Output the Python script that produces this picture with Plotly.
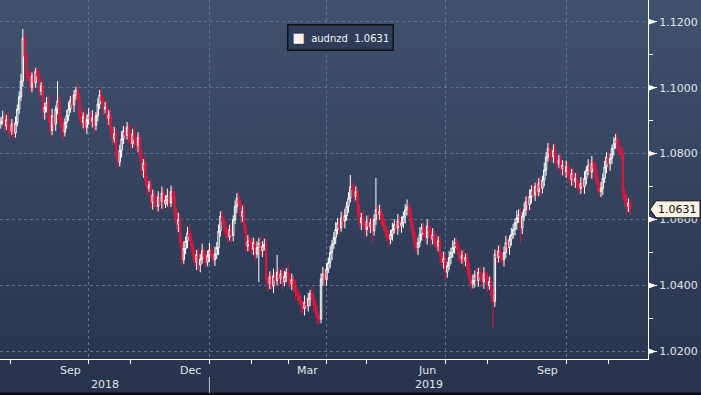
import base64
import math
import pandas as pd
import plotly.graph_objects as go

# ---------------- data ----------------
series_name = "audnzd"
first_date = "2018-07-25"
first_open = 1.0890

closes = [
    1.0898, 1.0912, 1.0884, 1.0903, 1.0876, 1.0868, 1.0889, 1.0862, 1.0893, 1.0935,
    1.0972, 1.1020, 1.1150, 1.1095, 1.1040,
    1.1030, 1.1000, 1.1035, 1.1015, 1.1050,
    1.1035, 1.0990, 1.1005, 1.0925, 1.0940,
    1.0955, 1.0905, 1.0870, 1.0915, 1.0890, 1.0935, 1.0960,
    1.0905, 1.0880, 1.0865, 1.0895, 1.0915,
    1.0935, 1.0962, 1.0948, 1.0978, 1.0992, 1.0968, 1.0918,
    1.0895, 1.0912, 1.0880, 1.0903, 1.0920, 1.0898, 1.0908, 1.0885, 1.0915,
    1.0950, 1.0978, 1.0960, 1.0935,
    1.0940, 1.0905, 1.0918, 1.0870, 1.0845, 1.0860, 1.0800, 1.0775,
    1.0810, 1.0845, 1.0870, 1.0855, 1.0880, 1.0850, 1.0830, 1.0860, 1.0842, 1.0825, 1.0848,
    1.0790, 1.0750, 1.0772, 1.0718,
    1.0695, 1.0705, 1.0652, 1.0675,
    1.0652, 1.0640, 1.0668, 1.0655, 1.0680, 1.0648, 1.0660, 1.0672, 1.0650, 1.0685, 1.0668,
    1.0620, 1.0585, 1.0600, 1.0530, 1.0478,
    1.0512, 1.0535, 1.0560, 1.0548, 1.0520, 1.0490,
    1.0470, 1.0495, 1.0462, 1.0480, 1.0505, 1.0488, 1.0470, 1.0492, 1.0508, 1.0495, 1.0478, 1.0495,
    1.0515, 1.0565, 1.0610, 1.0595, 1.0575,
    1.0560, 1.0548, 1.0570, 1.0552,
    1.0600, 1.0640, 1.0665, 1.0648,
    1.0610, 1.0625, 1.0570, 1.0520, 1.0535,
    1.0525, 1.0510, 1.0530, 1.0495, 1.0515, 1.0528, 1.0505, 1.0520, 1.0525, 1.0420,
    1.0405, 1.0425, 1.0398, 1.0430, 1.0415, 1.0440, 1.0420, 1.0435, 1.0410, 1.0428,
    1.0440, 1.0422, 1.0405, 1.0418, 1.0395, 1.0380,
    1.0370, 1.0355, 1.0340, 1.0330, 1.0350, 1.0338, 1.0360, 1.0375, 1.0362, 1.0340, 1.0320, 1.0300,
    1.0298, 1.0420, 1.0435, 1.0418,
    1.0450, 1.0470, 1.0500, 1.0525, 1.0545, 1.0570,
    1.0590, 1.0575, 1.0605, 1.0595, 1.0612,
    1.0640, 1.0665, 1.0700, 1.0690,
    1.0670, 1.0685, 1.0625, 1.0590, 1.0605,
    1.0585, 1.0570, 1.0595, 1.0578, 1.0590, 1.0565, 1.0600,
    1.0630, 1.0615, 1.0625, 1.0600, 1.0580,
    1.0565, 1.0550, 1.0540, 1.0555, 1.0570,
    1.0585, 1.0575, 1.0595, 1.0580, 1.0590, 1.0610,
    1.0630, 1.0638, 1.0620, 1.0590,
    1.0560, 1.0530, 1.0515,
    1.0530, 1.0555, 1.0575, 1.0560, 1.0545, 1.0580, 1.0565, 1.0540, 1.0555, 1.0535,
    1.0520, 1.0535, 1.0490,
    1.0470, 1.0482, 1.0440, 1.0460,
    1.0485, 1.0500, 1.0515, 1.0530, 1.0520,
    1.0495, 1.0480, 1.0490, 1.0475, 1.0485,
    1.0450, 1.0420, 1.0405, 1.0415,
    1.0430, 1.0415, 1.0440, 1.0425, 1.0412, 1.0435, 1.0420,
    1.0400, 1.0412, 1.0370, 1.0352,
    1.0495,
    1.0485, 1.0505, 1.0490, 1.0478,
    1.0500, 1.0530, 1.0515, 1.0540,
    1.0555, 1.0570, 1.0590, 1.0605, 1.0615,
    1.0575, 1.0610, 1.0630, 1.0655, 1.0645,
    1.0670, 1.0690, 1.0675, 1.0700, 1.0685, 1.0710, 1.0695,
    1.0720, 1.0750, 1.0790, 1.0815, 1.0800, 1.0790, 1.0810, 1.0785,
    1.0770, 1.0780, 1.0755, 1.0765, 1.0745,
    1.0760, 1.0735, 1.0720, 1.0740, 1.0715, 1.0725, 1.0705,
    1.0695, 1.0710, 1.0700,
    1.0725, 1.0750, 1.0765, 1.0745, 1.0770, 1.0755,
    1.0730, 1.0705, 1.0685, 1.0695,
    1.0725, 1.0760, 1.0790, 1.0770, 1.0785,
    1.0815, 1.0830, 1.0845, 1.0825, 1.0810, 1.0800,
    1.0680,
    1.0655, 1.0640, 1.0650, 1.0631,
]

# wick lengths beyond the candle body, in pips (0.0001)
upper_wick_pips = [
    12, 18, 10, 15, 22, 9, 16, 13, 20, 14, 17, 22, 28, 15, 12,
    16, 21, 11, 18, 10, 14, 19, 12, 24, 15, 17, 20, 13, 22, 16,
    11, 60, 18, 14, 21, 12, 17, 23, 13, 19, 15, 11, 20, 14, 18,
    13, 22, 15, 19, 12, 24, 16, 11, 18, 15, 20, 13, 17, 22, 14,
    19, 12, 21, 15, 11, 17, 23, 14, 18, 16, 12, 20, 15, 24, 13,
    17, 14, 22, 11, 19, 15, 12, 21, 16, 13, 23, 18, 12, 20, 15,
    14, 22, 16, 18, 12, 19, 15, 21, 13, 17, 22, 14, 18, 24, 12,
    16, 20, 13, 19, 15, 22, 12, 18, 14, 21, 16, 13, 23, 17, 20,
    15, 19, 12, 22, 16, 14, 20, 13, 18, 15, 21, 12, 17, 23, 14,
    18, 13, 21, 15, 12, 19, 16, 22, 14, 17, 20, 13, 18, 15, 21,
    14, 53, 17, 12, 20, 16, 13, 22, 15, 18, 12, 21, 16, 14, 19,
    13, 20, 15, 18, 12, 22, 16, 14, 19, 11, 17, 21, 14, 18, 15,
    20, 13, 17, 22, 15, 12, 19, 16, 21, 14, 18, 35, 13, 20, 16,
    12, 19, 15, 22, 14, 17, 21, 13, 18, 16, 96, 14, 20, 12, 17,
    21, 15, 18, 13, 20, 16, 12, 22, 15, 19, 14, 17, 23, 13, 18,
    16, 12, 20, 15, 22, 13, 18, 14, 21, 17, 12, 19, 15, 23, 14,
    18, 13, 21, 16, 12, 20, 15, 22, 14, 17, 13, 19, 16, 21, 12,
    17, 22, 14, 19, 15, 24, 13, 18, 16, 21, 12, 20, 15, 17, 22,
    14, 19, 16, 22, 13, 18, 21, 15, 12, 20, 17, 14, 23, 16, 19,
    13, 21, 15, 18, 22, 14, 17, 12, 20, 16, 19, 13, 22, 15, 17,
    20, 14, 18, 22, 13, 16, 21, 15, 12, 19, 17, 23, 14, 18, 16,
    22, 13, 19, 15, 21, 12, 18, 16, 23, 14, 17, 20, 13, 19, 15,
    18, 14, 21, 16, 12, 20, 15, 21, 17, 13, 19, 15, 22, 14, 12,
]
lower_wick_pips = [
    14, 10, 18, 12, 16, 22, 11, 19, 13, 10, 15, 12, 17, 14, 20,
    12, 17, 14, 21, 15, 11, 19, 13, 18, 22, 15, 12, 20, 14, 17,
    21, 15, 12, 18, 23, 13, 19, 16, 11, 17, 22, 14, 15, 20, 12,
    18, 13, 21, 16, 12, 19, 23, 14, 17, 15, 11, 20, 13, 22, 18,
    15, 20, 12, 17, 19, 14, 22, 16, 19, 12, 18, 23, 13, 20, 15,
    21, 13, 18, 23, 16, 19, 11, 17, 22, 14, 20, 15, 12, 22, 17,
    13, 20, 16, 12, 21, 18, 14, 23, 15, 19, 12, 17, 22, 14, 20,
    15, 12, 23, 18, 22, 14, 20, 16, 12, 21, 17, 13, 19, 15, 23,
    17, 14, 21, 16, 19, 12, 23, 18, 14, 20, 15, 22, 17, 12, 19,
    16, 22, 13, 18, 21, 12, 105, 15, 19, 14, 17, 23, 16, 12, 21,
    18, 13, 20, 15, 23, 12, 17, 21, 14, 19, 16, 22, 18, 13, 20,
    15, 21, 12, 17, 23, 14, 19, 16, 18, 14, 13, 21, 15, 19, 12,
    17, 23, 14, 19, 15, 21, 12, 18, 22, 16, 19, 13, 21, 17, 12,
    19, 15, 22, 13, 18, 21, 16, 19, 36, 14, 17, 23, 15, 19, 13,
    21, 17, 23, 15, 19, 12, 18, 21, 14, 20, 16, 22, 17, 13, 19,
    15, 21, 17, 23, 14, 19, 16, 12, 21, 18, 22, 15, 19, 13, 17,
    21, 15, 19, 23, 17, 13, 21, 16, 19, 12, 22, 17, 14, 21, 16,
    19, 17, 23, 14, 21, 15, 19, 12, 18, 22, 16, 20, 13, 21, 81,
    17, 22, 15, 19, 14, 21, 17, 16, 22, 19, 13, 18, 21, 15, 45,
    19, 14, 18, 22, 16, 21, 12, 19, 17, 14, 22, 16, 19, 17, 14,
    21, 15, 19, 17, 22, 14, 18, 21, 15, 19, 12, 22, 17, 14, 19,
    16, 21, 17, 14, 22, 19, 15, 18, 21, 14, 19, 22, 16, 17, 21,
    14, 19, 16, 22, 17, 21, 15, 19, 14, 17, 22, 19, 26, 17, 15,
]

y_tick_values = [1.02, 1.04, 1.06, 1.08, 1.10, 1.12]
y_minor_values = [1.03, 1.05, 1.07, 1.09, 1.11]
month_labels = [((2018, 9), "Sep"), ((2018, 12), "Dec"), ((2019, 3), "Mar"),
                ((2019, 6), "Jun"), ((2019, 9), "Sep")]
year_labels = ["2018", "2019"]

# ---------------- build OHLC ----------------
assert len(closes) == len(upper_wick_pips) == len(lower_wick_pips)
dates = pd.bdate_range(first_date, periods=len(closes))
opens = [first_open] + closes[:-1]
highs = [round(max(o, c) + u / 10000.0, 4) for o, c, u in zip(opens, closes, upper_wick_pips)]
lows = [round(min(o, c) - d / 10000.0, 4) for o, c, d in zip(opens, closes, lower_wick_pips)]
last_value = closes[-1]

# ---------------- geometry / style ----------------
W, H = 701, 395
ML, MR, MT, MB = 0, 53, 0, 36
PW, PH = W - ML - MR, H - MT - MB
Y_RANGE = [1.0177, 1.1266]
X_RANGE = [pd.Timestamp("2018-07-24 12:49"), pd.Timestamp("2019-12-02 16:48")]
FONT = "DejaVu Sans"
TXT = "#e0e4eb"
GRID = "#5d7394"
RED_LINE = "#e0173f"
RED_FILL = "#a3284f"

cal = pd.bdate_range("2018-07-02", "2020-01-31")


def tpos(ts):
    ts = pd.Timestamp(ts)
    day = ts.normalize()
    return cal.searchsorted(day) + (ts - day) / pd.Timedelta(days=1)


def tdate(pos):
    k = int(math.floor(pos))
    return cal[k] + (pos - k) * pd.Timedelta(days=1)


def ypaper(v):
    return (v - Y_RANGE[0]) / (Y_RANGE[1] - Y_RANGE[0])


month_starts = pd.date_range("2018-08-01", "2019-12-01", freq="MS")
quarter_starts = [d for d in month_starts if d.month in (1, 4, 7, 10)]

fig = go.Figure()
fig.add_trace(go.Candlestick(
    x=dates, open=opens, high=highs, low=lows, close=closes,
    name=series_name, showlegend=False,
    increasing=dict(line=dict(color="#ffffff", width=1), fillcolor="rgba(0,0,0,0)"),
    decreasing=dict(line=dict(color=RED_LINE, width=1), fillcolor=RED_FILL),
    whiskerwidth=0,
))

annotations = []
shapes = []

# month labels centred within their month
for (yy, mm), txt in month_labels:
    s = tpos(pd.Timestamp(yy, mm, 1))
    e = tpos(pd.Timestamp(yy, mm, 1) + pd.offsets.MonthBegin(1))
    annotations.append(dict(x=tdate((s + e) / 2), y=-11 / PH, xref="x", yref="paper",
                            text=txt, showarrow=False, xanchor="center", yanchor="middle",
                            font=dict(family=FONT, size=11, color=TXT)))
# year labels centred within the visible part of the year
boundary = pd.Timestamp("2019-01-01")
spans = [(tpos(X_RANGE[0]), tpos(boundary)), (tpos(boundary), tpos(X_RANGE[1]))]
for txt, (s, e) in zip(year_labels, spans):
    annotations.append(dict(x=tdate((s + e) / 2), y=-25 / PH, xref="x", yref="paper",
                            text=txt, showarrow=False, xanchor="center", yanchor="middle",
                            font=dict(family=FONT, size=11, color=TXT)))
shapes.append(dict(type="line", xref="x", yref="paper", x0=boundary, x1=boundary,
                   y0=-18 / PH, y1=-34 / PH, line=dict(color="#b8bfca", width=1)))

# right-pointing markers at the major y ticks
for v in y_tick_values:
    yc = ypaper(v)
    h = 3.2 / PH
    shapes.append(dict(type="path", xref="paper", yref="paper",
                       path=f"M 1 {yc - h} L 1 {yc + h} L {1 + 8.5 / PW} {yc} Z",
                       fillcolor="#ffffff", line=dict(width=0), layer="above"))

# last value tag
yc = ypaper(last_value)
hh = 8.5 / PH
x_tip, x_body, x_end = 650 / PW, 656 / PW, 700 / PW
shapes.append(dict(type="path", xref="paper", yref="paper",
                   path=(f"M {x_tip} {yc} L {x_body} {yc + hh} L {x_end} {yc + hh} "
                         f"L {x_end} {yc - hh} L {x_body} {yc - hh} Z"),
                   fillcolor="#f7f1e6", line=dict(color="#111111", width=1), layer="above"))
annotations.append(dict(x=677.5 / PW, y=yc, xref="paper", yref="paper",
                        text=f"{last_value:.4f}", showarrow=False,
                        xanchor="center", yanchor="middle",
                        font=dict(family=FONT, size=11, color="#111111")))

# legend box
annotations.append(dict(x=287 / PW, y=1 - 24 / PH, xref="paper", yref="paper",
                        xanchor="left", yanchor="top", align="left", showarrow=False,
                        text=(f"<span style='color:#fdf2ee;font-size:13px'>■</span>"
                              f"  {series_name}  {last_value:.4f}"),
                        font=dict(family=FONT, size=10, color="#f2f4f7"),
                        bgcolor="#303c58", bordercolor="#0c1018", borderwidth=1.5,
                        borderpad=4, width=96, height=16))

# gradient background
svg = (
    f'<svg xmlns="http://www.w3.org/2000/svg" width="{W}" height="{H}" '
    f'viewBox="0 0 {W} {H}" preserveAspectRatio="none">'
    '<defs><linearGradient id="g" x1="0" y1="0" x2="0" y2="1">'
    '<stop offset="0" stop-color="#40516e"/><stop offset="1" stop-color="#28324c"/>'
    '</linearGradient></defs>'
    f'<rect width="{W}" height="{H}" fill="url(#g)"/>'
    f'<rect y="{H - 2.5}" width="{W}" height="2.5" fill="#0a0e16"/>'
    '</svg>'
)
bg_src = "data:image/svg+xml;base64," + base64.b64encode(svg.encode()).decode()

fig.update_layout(
    width=W, height=H, autosize=False,
    margin=dict(l=ML, r=MR, t=MT, b=MB, pad=0),
    paper_bgcolor="#34415d", plot_bgcolor="rgba(0,0,0,0)",
    showlegend=False, hovermode=False,
    boxgap=0.12, boxgroupgap=0.12,
    images=[dict(source=bg_src, xref="paper", yref="paper", x=-ML / PW, y=1 + MT / PH,
                 sizex=W / PW, sizey=H / PH, xanchor="left", yanchor="top",
                 sizing="stretch", layer="below")],
    annotations=annotations, shapes=shapes,
    xaxis=dict(
        type="date", range=X_RANGE, rangebreaks=[dict(bounds=["sat", "mon"])],
        rangeslider=dict(visible=False),
        tickmode="array", tickvals=quarter_starts, showticklabels=False,
        ticks="outside", ticklen=4, tickwidth=1, tickcolor="#ffffff",
        showgrid=True, gridcolor=GRID, griddash="dot", gridwidth=1,
        minor=dict(tickmode="array", tickvals=list(month_starts), ticks="outside",
                   ticklen=4, tickwidth=1, tickcolor="#ffffff", showgrid=False),
        showline=True, linecolor="#ffffff", linewidth=1, zeroline=False, fixedrange=True,
    ),
    yaxis=dict(
        side="right", range=Y_RANGE, tickmode="array", tickvals=y_tick_values,
        ticktext=[f"{v:.4f}" for v in y_tick_values],
        ticks="outside", ticklen=8, tickwidth=1, tickcolor="#ffffff",
        tickfont=dict(family=FONT, size=11, color=TXT),
        showgrid=True, gridcolor=GRID, griddash="dot", gridwidth=1,
        minor=dict(tickmode="array", tickvals=y_minor_values, ticks="outside",
                   ticklen=4, tickwidth=1, tickcolor="#ffffff", showgrid=False),
        showline=True, linecolor="#ffffff", linewidth=1, zeroline=False, fixedrange=True,
    ),
)

# the page's default 8px body margin would shift the 701x395 figure inside the window
fig.write_html("out.html",
               config={"displayModeBar": False, "staticPlot": True},
               post_script="document.body.style.margin='0';document.body.style.overflow='hidden';")
